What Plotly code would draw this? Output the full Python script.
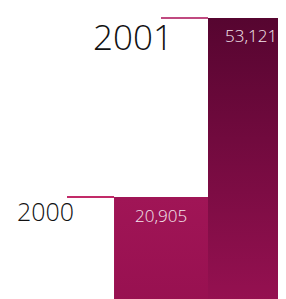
import plotly.graph_objects as go

years = ["2000", "2001"]
values = [20905, 53121]
value_labels = ["20,905", "53,121"]

# layout / style constants
bar_left = [0.0, 1.0]
bar_right = [1.0, 1.915]
top_colors = ["#a01556", "#560530"]
bottom_colors = ["#971050", "#981152"]
line_colors = ["#c22a68", "#c04a80"]
year_sizes = [25, 35]
year_dx = [0.4, 0.35]
value_shift = [-19, -18]
year_shift = [-14, -19]
FONT = "Open Sans"

fig = go.Figure()
for i, v in enumerate(values):
    xl, xr = bar_left[i], bar_right[i]
    fig.add_trace(go.Scatter(
        x=[xl, xr, xr, xl, xl], y=[0, 0, v, v, 0],
        mode="lines", fill="toself", line=dict(width=0),
        fillgradient=dict(type="vertical",
                          colorscale=[[0, bottom_colors[i]], [1, top_colors[i]]]),
        hoverinfo="skip", showlegend=False))
    # value label
    fig.add_annotation(x=(xl + xr) / 2, y=v, yshift=value_shift[i], text=value_labels[i],
                       showarrow=False, xref="x", yref="y",
                       font=dict(family=FONT, size=17, weight=300, color="#f4e6ee"))
    # leader line
    fig.add_shape(type="line", xref="x", yref="y",
                  x0=xl - 0.5, x1=xl, y0=v, y1=v,
                  line=dict(color=line_colors[i], width=2))
    # year label
    fig.add_annotation(x=xl - year_dx[i], y=v, yshift=year_shift[i], text=years[i],
                       showarrow=False, xanchor="right", xref="x", yref="y",
                       font=dict(family=FONT, size=year_sizes[i], weight=300,
                                 color="#111111"))

fig.update_layout(
    width=286, height=299,
    margin=dict(l=0, r=0, t=0, b=0),
    paper_bgcolor="white", plot_bgcolor="white",
    xaxis=dict(range=[-1.128, 1.915], visible=False, fixedrange=True),
    yaxis=dict(range=[1100, 54920], visible=False, fixedrange=True),
    showlegend=False,
)
fig.write_html("out.html", config={"displayModeBar": False})
